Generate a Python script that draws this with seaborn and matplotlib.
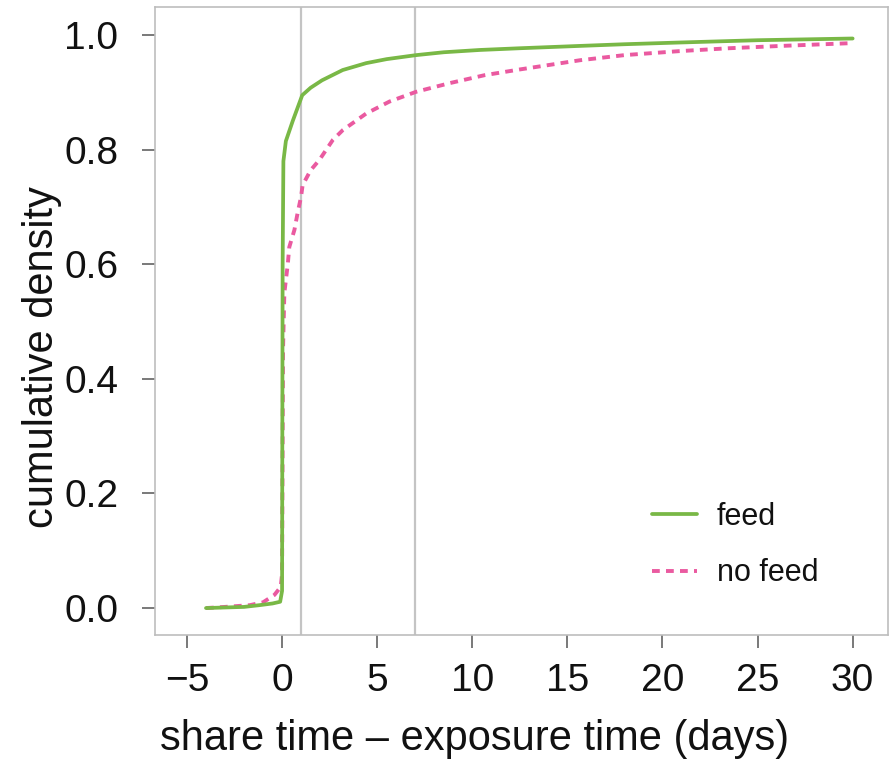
import matplotlib
matplotlib.use("Agg")
import matplotlib.pyplot as plt
import pandas as pd
import seaborn as sns

# Empirical CDF of (share time - exposure time), in days
feed_days = [-4.0, -3.0, -2.0, -1.2, -0.5, -0.1, 0.0, 0.03, 0.07, 0.2, 0.56,
             1.06, 1.5, 2.1, 3.19, 4.42, 5.5, 7.05, 8.5, 10.4, 12.5, 15.6,
             18.0, 20.9, 25.0, 30.0]
feed_cdf = [0.0, 0.001, 0.002, 0.005, 0.008, 0.011, 0.03, 0.60, 0.78, 0.815,
            0.85, 0.895, 0.908, 0.921, 0.939, 0.951, 0.958, 0.965, 0.970,
            0.974, 0.977, 0.981, 0.984, 0.987, 0.991, 0.994]

nofeed_days = [-4.0, -3.0, -1.7, -1.0, -0.4, -0.07, 0.0, 0.05, 0.12, 0.3,
               0.38, 0.65, 0.82, 1.0, 1.08, 1.5, 1.96, 2.67, 3.19, 4.42, 5.65,
               7.05, 8.8, 10.65, 12.5, 15.65, 18.0, 20.9, 23.5, 26.2, 30.0]
nofeed_cdf = [0.0, 0.002, 0.005, 0.010, 0.023, 0.037, 0.06, 0.45, 0.55, 0.60,
              0.63, 0.66, 0.69, 0.718, 0.738, 0.764, 0.782, 0.817, 0.834,
              0.863, 0.884, 0.901, 0.916, 0.930, 0.940, 0.956, 0.965, 0.972,
              0.977, 0.981, 0.986]

ref_days = [1, 7]
x_ticks = [-5, 0, 5, 10, 15, 20, 25, 30]
y_ticks = [0.0, 0.2, 0.4, 0.6, 0.8, 1.0]
y_tick_labels = ["0.0", "0.2", "0.4", "0.6", "0.8", "1.0"]

feed_color = "#79b846"
nofeed_color = "#ea5aa0"

sns.set_style("white")
plt.rcParams["font.family"] = ["Liberation Sans", "DejaVu Sans"]
plt.rcParams["axes.unicode_minus"] = True

fig = plt.figure(figsize=(8.94, 7.68), dpi=100)
ax = fig.add_axes([0.1734, 0.1732, 0.8199, 0.8177])

for d in ref_days:
    ax.axvline(d, color="#c4c4c4", lw=1.6, zorder=1)

feed_df = pd.DataFrame({"days": feed_days, "cdf": feed_cdf})
nofeed_df = pd.DataFrame({"days": nofeed_days, "cdf": nofeed_cdf})

sns.lineplot(data=feed_df, x="days", y="cdf", ax=ax, color=feed_color,
             lw=2.7, estimator=None, sort=False, label="feed", zorder=3)
sns.lineplot(data=nofeed_df, x="days", y="cdf", ax=ax, color=nofeed_color,
             lw=2.8, estimator=None, sort=False, label="no feed", zorder=2)
ax.lines[-1].set_dashes([2.0, 1.6])

ax.set_xlim(-6.68, 31.86)
ax.set_ylim(-0.047, 1.049)
ax.set_xticks(x_ticks)
ax.set_yticks(y_ticks)
ax.set_yticklabels(y_tick_labels)

for s in ax.spines.values():
    s.set_color("#bdbdbd")
    s.set_linewidth(1.2)

ax.tick_params(axis="both", direction="out", length=9.4, width=1.1,
               color="#555555", labelsize=28, labelcolor="#111111")
ax.tick_params(axis="x", pad=11)
ax.tick_params(axis="y", pad=17)
ax.tick_params(bottom=True, left=True)

ax.set_xlabel("share time \u2013 exposure time (days)", fontsize=30,
              color="#111111")
ax.set_ylabel("cumulative density", fontsize=30, color="#111111")
ax.xaxis.set_label_coords(0.4366, -0.134)
ax.yaxis.set_label_coords(-0.127, 0.4427)

leg = ax.legend(loc="upper left", bbox_to_anchor=(0.678, 0.212),
                frameon=False, fontsize=22, handlelength=1.47,
                handletextpad=0.65, labelspacing=0.87, borderpad=0,
                borderaxespad=0)
for t in leg.get_texts():
    t.set_color("#111111")

fig.savefig("out.png", dpi=100)
